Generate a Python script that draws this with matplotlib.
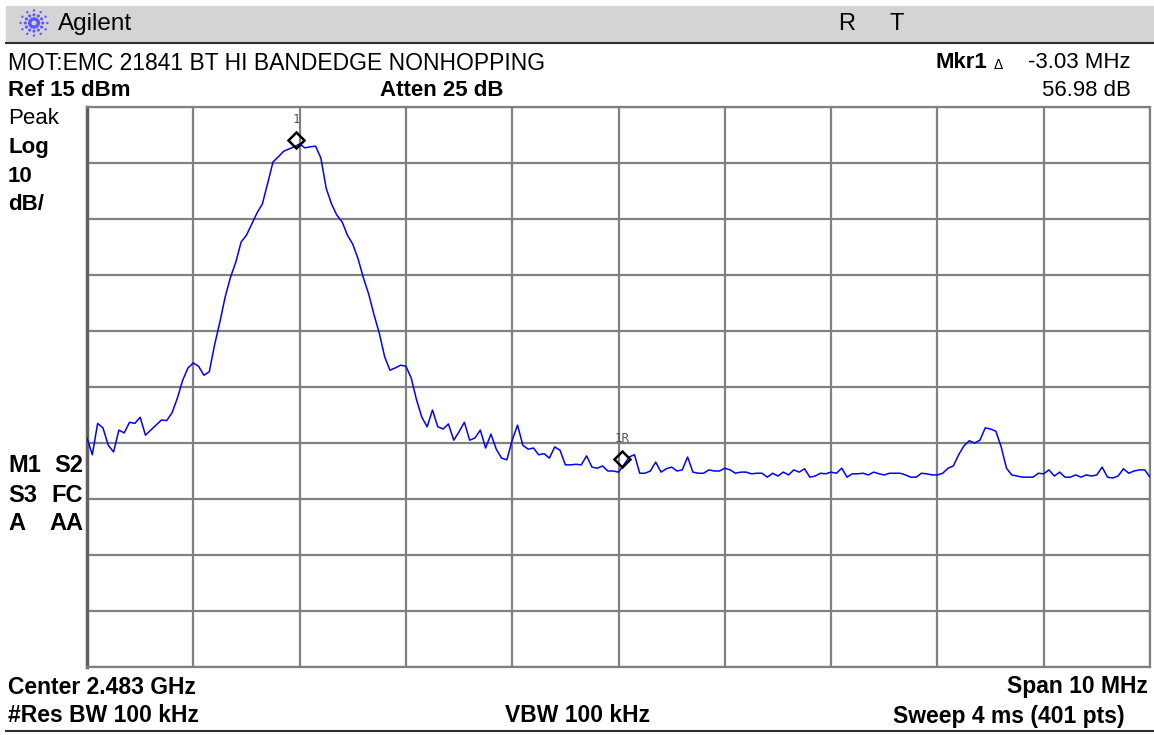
import numpy as np
import matplotlib.pyplot as plt
from matplotlib.patches import Rectangle
from matplotlib.lines import Line2D

# sweep setup (from the screen annotations)
f_start, f_stop = 2.478, 2.488  # GHz, center 2.483 / span 10 MHz
ref_level = 15  # dBm
db_per_div = 10

# trace, every 2nd sweep point (dBm)
trace_dbm = [
    -44.1, -47.1, -41.5, -42.3, -45.4, -46.6, -42.7, -43.2, -41.3, -41.5,
    -40.4, -43.6, -42.7, -41.8, -40.9, -41.0, -39.6, -37.0, -33.8, -31.6,
    -30.7, -31.3, -32.9, -32.3, -27.5, -23.4, -18.9, -15.4, -12.7, -9.1,
    -7.9, -5.9, -3.9, -2.3, 1.4, 5.2, 6.1, 7.1, 7.5, 7.9,
    8.4, 7.7, 7.9, 8.0, 5.9, 0.5, -2.3, -4.3, -5.5, -7.9,
    -9.5, -12.1, -15.5, -18.4, -22.1, -25.4, -29.6, -32.0, -31.6, -31.1,
    -31.3, -33.4, -37.3, -40.4, -42.1, -39.1, -42.1, -42.5, -41.6, -44.5,
    -43.0, -41.3, -44.5, -44.1, -42.7, -45.9, -43.4, -46.1, -47.7, -48.0,
    -44.5, -41.8, -45.4, -46.1, -45.9, -47.1, -46.9, -47.7, -45.7, -46.3,
    -48.9, -48.9, -48.8, -48.9, -47.3, -49.3, -49.5, -49.1, -50.0, -50.0,
    -50.2, -48.9, -47.5, -47.1, -50.4, -50.4, -50.0, -48.4, -50.2, -49.6,
    -49.3, -50.0, -49.8, -47.5, -50.2, -50.4, -50.4, -49.8, -50.0, -50.0,
    -49.5, -49.8, -50.4, -50.2, -50.2, -50.5, -50.4, -50.4, -51.1, -50.4,
    -50.9, -50.2, -50.7, -49.8, -50.2, -49.6, -51.1, -50.9, -50.4, -50.5,
    -50.2, -50.4, -49.5, -51.1, -50.5, -50.5, -50.4, -50.7, -50.2, -50.5,
    -50.7, -50.4, -50.4, -50.4, -50.7, -51.1, -51.1, -50.4, -50.5, -50.7,
    -50.7, -50.4, -49.5, -49.1, -47.1, -45.5, -44.6, -45.0, -44.5, -42.3,
    -42.5, -42.9, -45.7, -49.5, -50.7, -50.9, -51.1, -51.1, -51.1, -50.4,
    -50.5, -49.8, -50.9, -50.2, -51.1, -51.1, -50.7, -51.1, -50.7, -50.9,
    -50.7, -49.3, -51.1, -51.25, -50.9, -49.6, -50.4, -50.0, -49.8, -49.8,
    -51.1,
]

mkr_freq = [2.47997, 2.48303]  # GHz
mkr_level = [9.1, -47.9]  # dBm
mkr_label = ["1", "1R"]

freq = np.linspace(f_start, f_stop, len(trace_dbm))

W, H = 1154, 735
plt.rcParams["font.family"] = ["Liberation Sans", "DejaVu Sans"]
fig = plt.figure(figsize=(W / 100, H / 100), dpi=100)


def txt(x, y, s, **kw):
    # place text in screen pixels
    kw.setdefault("va", "center")
    kw.setdefault("fontsize", 16)
    fig.text(x / W, 1 - y / H, s, **kw)


# header bar
fig.patches.append(Rectangle((6 / W, 1 - 42 / H), 1, 36 / H,
                             transform=fig.transFigure, color="#d4d4d4", zorder=0))
fig.add_artist(Line2D([6 / W, 1], [1 - 43 / H] * 2, color="#303030", lw=1.5))
fig.add_artist(Line2D([6 / W, 1], [1 - 731 / H] * 2, color="#303030", lw=1.5))

# agilent spark logo
lax = fig.add_axes([18 / W, 1 - 38 / H, 32 / W, 30 / H], zorder=2)
for ang in np.arange(0, 360, 30):
    r = np.array([0.3, 0.6, 0.92])
    lax.scatter(r * np.cos(np.radians(ang)), r * np.sin(np.radians(ang)),
                s=[7, 5, 3], color="#5a5aff", lw=0)
lax.set_xlim(-1.1, 1.1)
lax.set_ylim(-1.1, 1.1)
lax.axis("off")

txt(58, 24, "Agilent", fontsize=17.5)
txt(838, 24, "R", fontsize=17)
txt(890, 24, "T", fontsize=17)

txt(8, 63, "MOT:EMC 21841 BT HI BANDEDGE NONHOPPING", fontsize=16.5)
txt(987, 63, "Mkr1", ha="right", fontweight="bold")
txt(998, 65, "Δ", ha="center", fontsize=10)
txt(1131, 63, "-3.03 MHz", ha="right")

txt(8, 91, "Ref 15 dBm", fontweight="bold")
txt(380, 91, "Atten 25 dB", fontweight="bold")
txt(1131, 91, "56.98 dB", ha="right")

txt(8, 119, "Peak")
txt(8, 148, "Log", fontweight="bold")
txt(8, 176, "10", fontweight="bold")
txt(8, 205, "dB/", fontweight="bold")

for y, a, b in [(465, "M1", "S2"), (495, "S3", "FC"), (523, "A", "AA")]:
    txt(8, y, a, fontweight="bold", fontsize=17)
    txt(83, y, b, fontweight="bold", fontsize=17, ha="right")

txt(8, 687, "Center 2.483 GHz", fontweight="bold", fontsize=16.5)
txt(1148, 687, "Span 10 MHz", fontweight="bold", fontsize=16.5, ha="right")
txt(8, 716, "#Res BW 100 kHz", fontweight="bold", fontsize=16.5)
txt(578, 716, "VBW 100 kHz", fontweight="bold", fontsize=16.5, ha="center")
txt(1125, 716, "Sweep 4 ms (401 pts)", fontweight="bold", fontsize=16.5, ha="right")

# graticule + trace
ax = fig.add_axes([87 / W, 1 - 667 / H, 1063 / W, 560 / H])
ax.plot(freq, trace_dbm, color="#0000ff", lw=1.1, zorder=3)
ax.set_xlim(f_start, f_stop)
ax.set_ylim(ref_level - 10 * db_per_div, ref_level)
ax.set_xticks(np.linspace(f_start, f_stop, 11))
ax.set_yticks(np.arange(ref_level - 10 * db_per_div, ref_level + 1, db_per_div))
ax.tick_params(length=0, labelbottom=False, labelleft=False)
ax.grid(color="#808080", lw=1.6)
for s in ax.spines.values():
    s.set_color("#808080")
    s.set_linewidth(1.6)
ax.spines["left"].set_color("#606060")
ax.spines["left"].set_linewidth(2.5)

ax.plot(mkr_freq, mkr_level, ls="none", marker="D", ms=8, mfc="none",
        mec="black", mew=1.8, zorder=4)
for f, lv, lab in zip(mkr_freq, mkr_level, mkr_label):
    ax.annotate(lab, (f, lv), xytext=(0, 15), textcoords="offset points",
                ha="center", va="center", fontsize=9, color="#555555",
                family="DejaVu Sans Mono")

fig.savefig("out.png", dpi=100)
